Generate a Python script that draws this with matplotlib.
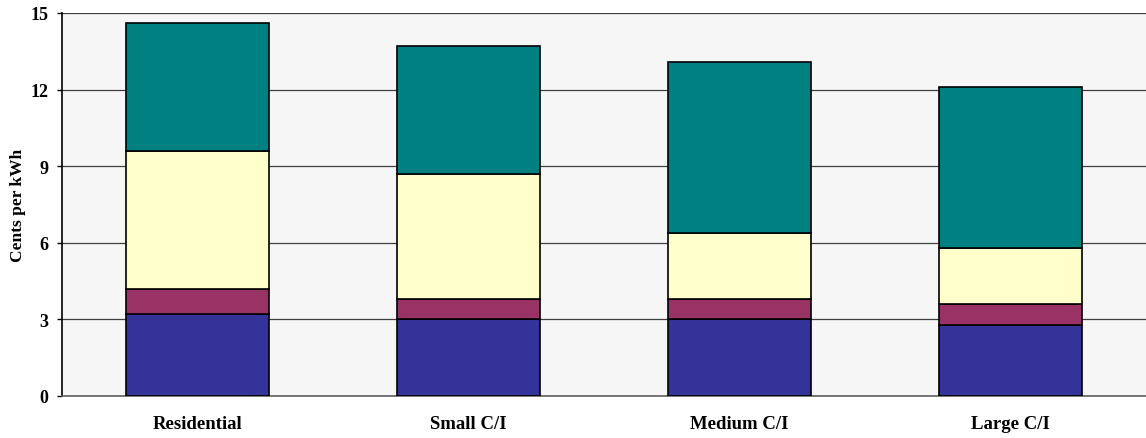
import matplotlib
matplotlib.use("Agg")
import matplotlib.pyplot as plt
import numpy as np

categories = ["Residential", "Small C/I", "Medium C/I", "Large C/I"]
seg1 = [3.2, 3.0, 3.0, 2.8]
seg2 = [1.0, 0.8, 0.8, 0.8]
seg3 = [5.4, 4.9, 2.6, 2.2]
seg4 = [5.0, 5.0, 6.7, 6.3]
colors = ["#333399", "#993366", "#FFFFCC", "#008080"]
yticks = [0, 3, 6, 9, 12, 15]

plt.rcParams["font.family"] = ["Liberation Serif", "DejaVu Serif"]
plt.rcParams["font.weight"] = "bold"

fig = plt.figure(figsize=(11.46, 4.39), dpi=100)
ax = fig.add_axes([62 / 1146, 1 - 397 / 439, (1146 - 62) / 1146, (397 - 14) / 439])
ax.set_facecolor("#F6F6F6")

x = np.arange(len(categories))
bottom = np.zeros(len(categories))
for vals, c in zip([seg1, seg2, seg3, seg4], colors):
    ax.bar(x, vals, width=0.528, bottom=bottom, color=c, edgecolor="black",
           linewidth=1.2, zorder=3)
    bottom += np.array(vals)

ax.set_xlim(-0.5, 3.5)
ax.set_ylim(0, 15)
ax.set_yticks(yticks)
ax.set_yticklabels([str(v) for v in yticks], fontsize=13, fontweight="bold")
ax.set_xticks(x)
ax.set_xticklabels(categories, fontsize=13.5, fontweight="bold")
ax.tick_params(axis="x", length=0, pad=13.5)
ax.tick_params(axis="y", length=3.6, width=1, direction="out", pad=6)
ax.grid(axis="y", color="#404040", linewidth=0.9, zorder=0)
ax.set_axisbelow(True)

for s in ["top", "right"]:
    ax.spines[s].set_visible(False)
ax.spines["left"].set_color("black")
ax.spines["left"].set_linewidth(1.2)
ax.spines["bottom"].set_color("#606060")
ax.spines["bottom"].set_linewidth(1.2)

ax.set_ylabel("Cents per kWh", fontsize=12.5, fontweight="bold")
ax.yaxis.set_label_coords(-36 / 1084, 0.5)

fig.savefig("out.png", dpi=100, facecolor="white")
